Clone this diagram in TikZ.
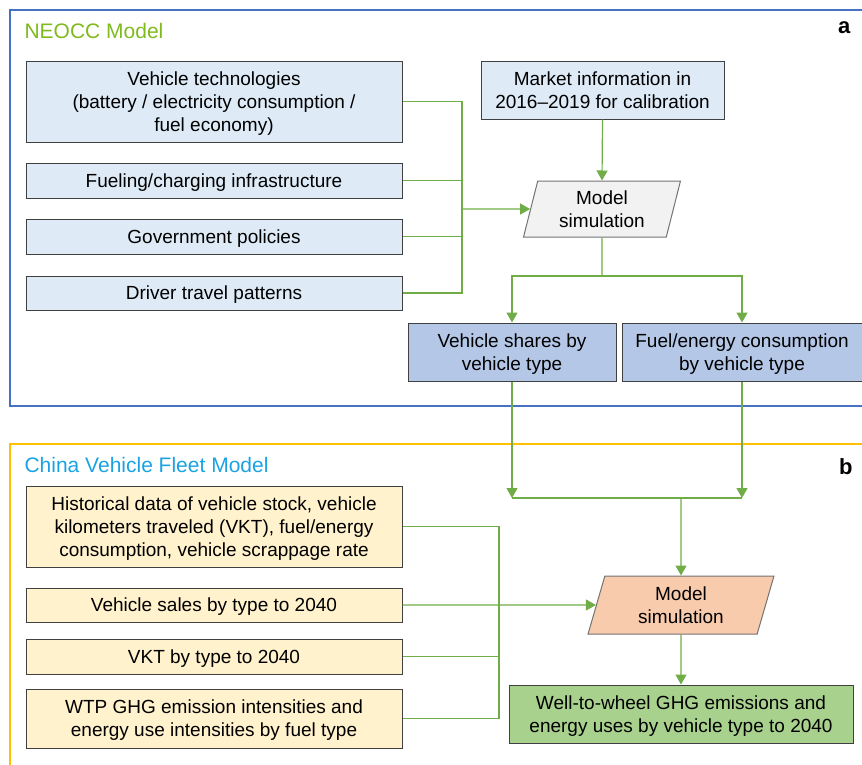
\documentclass[tikz,border=0pt]{standalone}
\usepackage{fontspec}
\setmainfont{Liberation Sans}
\usetikzlibrary{positioning,arrows.meta,shapes.geometric}
\definecolor{neoccclr}{HTML}{4472C4}
\definecolor{fleetclr}{HTML}{FFC000}
\definecolor{neocctxt}{HTML}{7FBA1E}
\definecolor{fleettxt}{HTML}{1AA3E3}
\definecolor{inclr}{HTML}{DEEBF7}
\definecolor{outclr}{HTML}{B4C7E7}
\definecolor{dataclr}{HTML}{FFF2CC}
\definecolor{simaclr}{HTML}{F2F2F2}
\definecolor{simbclr}{HTML}{F8CBAD}
\definecolor{resclr}{HTML}{A9D18E}
\definecolor{linkclr}{HTML}{70AD47}

\begin{document}
\begin{tikzpicture}[
  x=1pt, y=-1pt,
  font=\fontsize{19}{23}\selectfont,
  box/.style={
    rectangle, draw=black!75, line width=1pt, align=center, inner sep=2pt,
    text depth=0pt,
  },
  inbox/.style={box, fill=inclr, minimum width=376pt},
  outbox/.style={box, fill=outclr, minimum height=58pt},
  databox/.style={box, fill=dataclr, minimum width=376pt},
  resbox/.style={box, fill=resclr, minimum width=344pt, minimum height=58pt},
  sim/.style={
    trapezium, trapezium left angle=76, trapezium right angle=104,
    trapezium stretches=true, draw=black!55, line width=1pt,
    align=center, inner sep=1pt, text depth=0pt,
  },
  link/.style={draw=linkclr, line width=1.2pt},
  arrow/.style={link, -{Triangle[length=10pt,width=11pt]}},
  frame/.style={line width=2pt},
  title/.style={font=\fontsize{21}{25}\selectfont, anchor=base west},
  tag/.style={font=\fontsize{22}{26}\selectfont\bfseries, anchor=base east},
]
\useasboundingbox (0,0) rectangle (862,764);

% Frames
\draw[frame, draw=neoccclr] (866,10) -| (10,406) -- (866,406);
\draw[frame, draw=fleetclr] (866,444) -| (10,768);

% Titles
\node[title, text=neocctxt] (ttla) at (21,38) {NEOCC Model};
\node[title, text=fleettxt] (ttlb) at (21,472) {China Vehicle Fleet Model};
\node[tag] (taga) at (854,33) {a};
\node[tag] (tagb) at (856,474) {b};

% NEOCC inputs
\node[inbox, minimum height=81pt] (tech)   at (214,101.5) {Vehicle technologies\\(battery / electricity consumption /\\fuel economy)};
\node[inbox, minimum height=35pt] (infra)  at (214,180.5) {Fueling/charging infrastructure};
\node[inbox, minimum height=35pt] (policy) at (214,236.5) {Government policies};
\node[inbox, minimum height=34pt] (travel) at (214,293)   {Driver travel patterns};
\node[box, fill=inclr, minimum width=243pt, minimum height=58pt] (market) at (602.5,90) {Market information in\\2016--2019 for calibration};

% NEOCC simulation and outputs
\node[sim, fill=simaclr, minimum width=157pt, minimum height=56pt] (sima) at (602,209) {Model\\simulation};
\node[outbox, minimum width=208pt] (shares)   at (512,352) {Vehicle shares by\\vehicle type};
\node[outbox, minimum width=240pt] (fuelcons) at (742,352) {Fuel/energy consumption\\by vehicle type};

% Fleet inputs
\node[databox, minimum height=81pt] (hist)  at (214,526.5) {Historical data of vehicle stock, vehicle\\kilometers traveled (VKT), fuel/energy\\consumption, vehicle scrappage rate};
\node[databox, minimum height=34pt] (sales) at (214,605)   {Vehicle sales by type to 2040};
\node[databox, minimum height=35pt] (vkt)   at (214,656.5) {VKT by type to 2040};
\node[databox, minimum height=59pt] (wtp)   at (214,718.5) {WTP GHG emission intensities and\\energy use intensities by fuel type};

% Fleet simulation and result
\node[sim, fill=simbclr, minimum width=186pt, minimum height=58pt] (simb) at (681,605) {Model\\simulation};
\node[resbox] (ghg) at (681,714) {Well-to-wheel GHG emissions and\\energy uses by vehicle type to 2040};

% Junction points
\coordinate (busa)  at (462,209);
\coordinate (split) at (602,276);
\coordinate (joinl) at (512,498);
\coordinate (joinr) at (742,498);
\coordinate (busb)  at (499,605);

% NEOCC connectors
\draw[link] (tech.east) -| (busa) |- (travel.east);
\draw[link] (infra.east) -- (infra.east -| busa);
\draw[link] (policy.east) -- (policy.east -| busa);
\draw[arrow] (busa) -- (sima.west);
\draw[arrow] (market.south) -- (sima.north);
\draw[link] (sima.south) -- (split);
\draw[arrow] (split) -| (shares.north);
\draw[arrow] (split) -| (fuelcons.north);

% Outputs into fleet model
\draw[arrow] (shares.south) -- (joinl);
\draw[arrow] (fuelcons.south) -- (joinr);
\draw[link] (joinl) -- (joinr);
\draw[arrow] (joinl -| simb) -- (simb.north);

% Fleet connectors
\draw[link] (hist.east) -| (busb) |- (wtp.east);
\draw[link] (vkt.east) -- (vkt.east -| busb);
\draw[arrow] (sales.east) -- (simb.west);
\draw[arrow] (simb.south) -- (ghg.north);

\end{tikzpicture}
\end{document}
